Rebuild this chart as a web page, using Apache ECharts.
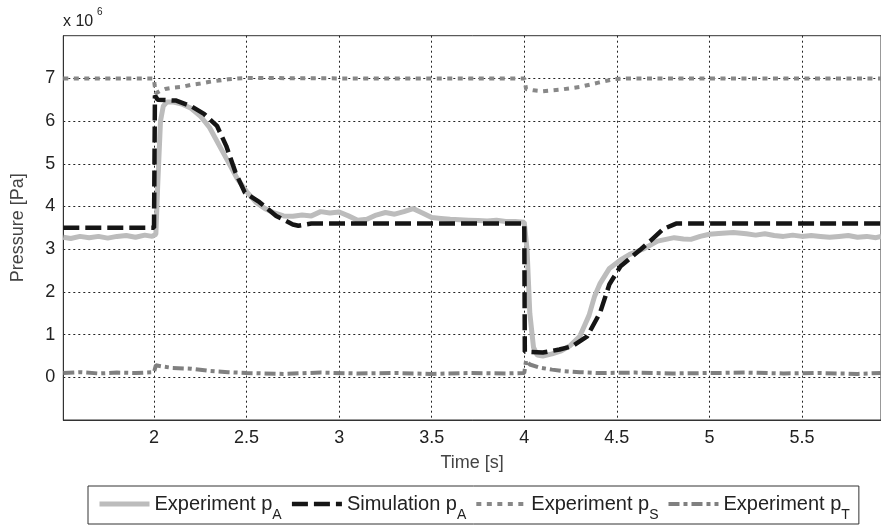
<!DOCTYPE html>
<html>
<head>
<meta charset="utf-8">
<script src="https://cdn.jsdelivr.net/npm/echarts@6/dist/echarts.min.js"></script>
<style>
html,body{margin:0;padding:0;background:#fff;}
#c{width:881px;height:528px;}
</style>
</head>
<body>
<div id="c"></div>
<script>
// ---- data (time in s, pressure in 1e6 Pa) ----
const expA_t = [1.51,1.55,1.6,1.65,1.7,1.75,1.8,1.85,1.9,1.95,1.99,2.01,2.02,2.035,2.05,2.07,2.1,2.15,2.2,2.25,2.3,2.35,2.4,2.45,2.5,2.55,2.6,2.65,2.7,2.75,2.8,2.85,2.9,2.95,3.0,3.05,3.1,3.15,3.2,3.25,3.3,3.35,3.4,3.45,3.5,3.55,3.6,3.65,3.7,3.75,3.8,3.85,3.9,3.95,4.0,4.015,4.03,4.05,4.07,4.1,4.15,4.2,4.25,4.3,4.35,4.38,4.41,4.46,4.52,4.57,4.64,4.72,4.81,4.86,4.9,4.95,5.0,5.05,5.13,5.2,5.25,5.3,5.35,5.4,5.45,5.5,5.55,5.6,5.65,5.7,5.75,5.8,5.85,5.9,5.927];
const expA_p = [3.28,3.25,3.3,3.27,3.3,3.26,3.3,3.32,3.28,3.33,3.3,3.35,4.5,6.0,6.35,6.45,6.45,6.4,6.3,6.12,5.85,5.45,5.05,4.65,4.35,4.1,3.95,3.85,3.78,3.77,3.8,3.78,3.88,3.85,3.87,3.78,3.68,3.7,3.8,3.86,3.82,3.88,3.95,3.85,3.74,3.72,3.7,3.69,3.68,3.67,3.66,3.68,3.65,3.65,3.63,3.0,1.5,0.7,0.52,0.5,0.55,0.62,0.75,0.96,1.45,1.9,2.2,2.55,2.75,2.88,3.0,3.19,3.27,3.24,3.23,3.3,3.35,3.37,3.39,3.36,3.33,3.36,3.32,3.3,3.33,3.3,3.32,3.3,3.28,3.3,3.32,3.28,3.3,3.27,3.3];

const simA_t = [1.51,2.0,2.005,2.02,2.12,2.2,2.27,2.34,2.39,2.44,2.49,2.57,2.66,2.75,2.78,2.85,4.0,4.003,4.1,4.19,4.26,4.34,4.41,4.46,4.52,4.63,4.68,4.75,4.82,5.927];
const simA_p = [3.5,3.5,6.6,6.5,6.48,6.35,6.17,5.89,5.42,4.8,4.33,4.1,3.78,3.58,3.55,3.6,3.6,0.6,0.58,0.65,0.73,0.96,1.52,2.18,2.6,3.0,3.19,3.47,3.6,3.6];

const expS_t = [1.51,2.0,2.003,2.01,2.03,2.06,2.1,2.15,2.2,2.25,2.3,2.35,2.4,2.5,3.0,3.5,4.0,4.01,4.05,4.1,4.2,4.3,4.4,4.48,4.55,5.927];
const expS_p = [7.0,7.0,6.85,6.65,6.7,6.75,6.78,6.8,6.85,6.88,6.92,6.95,6.98,7.01,7.0,7.0,7.0,6.75,6.72,6.7,6.74,6.8,6.9,6.98,7.0,7.0];

const expT_t = [1.51,1.6,1.7,1.8,1.9,2.0,2.01,2.05,2.1,2.2,2.3,2.4,2.5,2.7,2.9,3.1,3.3,3.5,3.7,3.9,4.0,4.01,4.03,4.08,4.15,4.2,4.3,4.4,4.6,4.8,5.0,5.2,5.4,5.6,5.8,5.927];
const expT_p = [0.1,0.12,0.09,0.11,0.1,0.12,0.28,0.25,0.22,0.2,0.15,0.12,0.1,0.08,0.11,0.09,0.1,0.08,0.1,0.09,0.1,0.4,0.3,0.23,0.18,0.15,0.12,0.1,0.11,0.09,0.1,0.11,0.09,0.1,0.08,0.1];

const xTicks = [2,2.5,3,3.5,4,4.5,5,5.5];
const yTicks = [0,1,2,3,4,5,6,7];
const names = ['Experiment pA','Simulation pA','Experiment pS','Experiment pT'];
const subs = {'Experiment pA':['Experiment p','A'],'Simulation pA':['Simulation p','A'],'Experiment pS':['Experiment p','S'],'Experiment pT':['Experiment p','T']};

const zip = (t, p) => t.map((v, i) => [v, p[i]]);

const FONT = '"Liberation Sans", Arial, Helvetica, sans-serif';
const chart = echarts.init(document.getElementById('c'), null, {renderer: 'canvas'});
chart.setOption({
  animation: false,
  backgroundColor: '#fff',
  textStyle: {fontFamily: FONT},
  grid: {left: 63.3, top: 35.7, width: 817.7, height: 384.3, show: true, borderColor: '#333', borderWidth: 1, containLabel: false},
  xAxis: {
    type: 'value', min: 1.51, max: 5.927,
    name: 'Time [s]', nameLocation: 'middle', nameGap: 34,
    nameTextStyle: {fontSize: 18, color: '#444', fontFamily: FONT},
    axisLine: {show: true, onZero: false, lineStyle: {color: '#333', width: 1}},
    axisTick: {show: false, customValues: xTicks},
    axisLabel: {customValues: xTicks, fontSize: 18, color: '#222', margin: 9, fontFamily: FONT},
    splitLine: {show: true, lineStyle: {color: '#222', width: 1, type: [2, 3]}}
  },
  yAxis: {
    type: 'value', min: -1, max: 8,
    name: 'Pressure [Pa]', nameLocation: 'middle', nameGap: 36, nameRotate: 90,
    nameTextStyle: {fontSize: 18, color: '#444', fontFamily: FONT},
    axisLine: {show: true, onZero: false, lineStyle: {color: '#333', width: 1}},
    axisTick: {show: false, customValues: yTicks},
    axisLabel: {customValues: yTicks, fontSize: 18, color: '#222', margin: 8, fontFamily: FONT},
    splitLine: {show: true, lineStyle: {color: '#222', width: 1, type: [2, 3]}}
  },
  legend: {
    data: names,
    left: 88, top: 486,
    orient: 'horizontal',
    padding: [0, 9, 2, 9],
    borderColor: '#333', borderWidth: 1,
    itemWidth: 50, itemHeight: 14, itemGap: 8,
    itemStyle: {opacity: 0},
    lineStyle: {width: 'inherit', type: 'inherit', color: 'inherit'},
    formatter: n => '{m|' + subs[n][0] + '}{s|' + subs[n][1] + '}',
    textStyle: {
      color: '#222', fontFamily: FONT, fontSize: 20,
      rich: {
        m: {fontSize: 20, lineHeight: 24, color: '#222', fontFamily: FONT},
        s: {fontSize: 14, lineHeight: 14, padding: [22, 0, 0, 0], color: '#222', fontFamily: FONT}
      }
    }
  },
  graphic: [
    {type: 'text', left: 63, top: 14, style: {text: 'x 10', fontSize: 16, fill: '#222', fontFamily: FONT}},
    {type: 'text', left: 97, top: 7, style: {text: '6', fontSize: 10, fill: '#222', fontFamily: FONT}}
  ],
  series: [
    {name: names[0], type: 'line', data: zip(expA_t, expA_p), showSymbol: false, symbol: 'none',
     lineStyle: {color: '#bcbcbc', width: 5}, itemStyle: {color: '#bcbcbc'}, z: 2},
    {name: names[1], type: 'line', data: zip(simA_t, simA_p), showSymbol: false, symbol: 'none',
     lineStyle: {color: '#151515', width: 4.5, type: [16, 6]}, itemStyle: {color: '#151515'}, z: 3},
    {name: names[2], type: 'line', data: zip(expS_t, expS_p), showSymbol: false, symbol: 'none',
     lineStyle: {color: '#888', width: 4, type: [5, 5.5]}, itemStyle: {color: '#888'}, z: 4},
    {name: names[3], type: 'line', data: zip(expT_t, expT_p), showSymbol: false, symbol: 'none',
     lineStyle: {color: '#808080', width: 4, type: [11, 4, 4, 4]}, itemStyle: {color: '#808080'}, z: 4}
  ]
});
</script>
</body>
</html>
